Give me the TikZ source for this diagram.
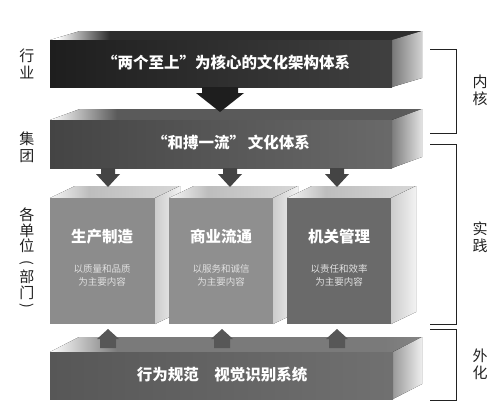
\documentclass[tikz,border=0pt]{standalone}
\usepackage{fontspec}
\setmainfont{Noto Sans CJK SC}
\usetikzlibrary{calc}
\definecolor{barA}{HTML}{1E1E1E}
\definecolor{barAtop}{HTML}{2E2E2E}
\definecolor{barB}{HTML}{444444}
\definecolor{barBtop}{HTML}{5A5A5A}
\definecolor{barC}{HTML}{575757}
\definecolor{barCtop}{HTML}{7A7A7A}
\definecolor{boxA}{HTML}{8C8C8C}
\definecolor{boxB}{HTML}{8F8F8F}
\definecolor{boxC}{HTML}{6A6A6A}
\definecolor{boxtop}{HTML}{BDBDBD}
\definecolor{ink}{HTML}{222222}
\pgfdeclarehorizontalshading{fadeA}{100bp}{color(0bp)=(white); color(26bp)=(white); color(33bp)=(barAtop); color(100bp)=(barAtop)}
\pgfdeclarehorizontalshading{fadeB}{100bp}{color(0bp)=(white); color(25bp)=(white); color(34bp)=(barBtop); color(72bp)=(barBtop); color(100bp)=(barBtop!70!white)}
\pgfdeclarehorizontalshading{fadeC}{100bp}{color(0bp)=(white); color(25bp)=(white); color(34bp)=(barCtop); color(70bp)=(barCtop); color(100bp)=(barCtop!50!white)}
\pgfdeclarehorizontalshading{fadeBox}{100bp}{color(0bp)=(white); color(25bp)=(white!85!boxtop); color(40bp)=(boxtop); color(75bp)=(boxtop!60!white); color(100bp)=(boxtop!60!white)}
\newcommand\slab[6]{%
  \fill[slabtop] (#1,#2) -- ($(#1,#2)+(#5,#6)$) -- ($(#3,#2)+(#5,#6)$) -- (#3,#2) -- cycle;
  \fill[slabside] (#3,#2) -- ($(#3,#2)+(#5,#6)$) -- ($(#3,#4)+(#5,#6)$) -- (#3,#4) -- cycle;
  \fill[slabfront] (#1,#2) rectangle (#3,#4);
}
\newcommand\blkdown[7]{% cx, ytop, yb, tip, shaft half, head half, color
  \fill[#7] (#1-#5,#2) -- (#1+#5,#2) -- (#1+#5,#3) -- (#1+#6,#3) -- (#1,#4) -- (#1-#6,#3) -- (#1-#5,#3) -- cycle;
}
\tikzset{
  bartext/.style={text=white, font=\fontsize{15.5}{17}\selectfont\bfseries, inner sep=0pt},
  boxtitle/.style={text=white, font=\fontsize{15.5}{17}\selectfont\bfseries, inner sep=0pt},
  boxsub/.style={text=white!88!black, font=\fontsize{9.5}{13}\selectfont, align=center, inner sep=0pt},
  sidelabel/.style={text=ink, font=\fontsize{15}{17}\selectfont, align=center, inner sep=0pt},
  sidechar/.style={text=ink, font=\fontsize{15}{17}\selectfont, inner sep=0pt},
  sideparen/.style={text=ink, font=\fontsize{14}{17}\selectfont, inner sep=0pt},
  bracket/.style={draw=ink, line width=0.9pt},
}
\begin{document}
\begin{tikzpicture}[x=1pt,y=-1pt]
\useasboundingbox (0,0) rectangle (500,416);
\fill[white] (0,0) rectangle (500,416);

% bar 1
\begin{scope}[slabtop/.style={shading=fadeA}, slabside/.style={left color=barA!60!white, right color=barA!20!white},
  slabfront/.style={left color=barA, right color=barA!85!white}]
\slab{50}{40}{392}{87}{30}{-9}
\end{scope}
\node[bartext] (t1) at (226,63) {“两个至上”为核心的文化架构体系};

% bar 2
\begin{scope}[slabtop/.style={shading=fadeB}, slabside/.style={left color=barB!70!white, right color=barB!15!white},
  slabfront/.style={left color=barB, right color=barB!80!white}]
\slab{50}{120}{392}{168}{30}{-11}
\end{scope}
\node[bartext] (t2) at (231,143) {“和搏一流”\hspace{3pt}文化体系};

% big arrow
\blkdown{220}{87}{93}{112}{18}{24}{barA}

% boxes
\begin{scope}[slabtop/.style={shading=fadeBox}, slabside/.style={left color=white!80!black, right color=white!95!black}]
\begin{scope}[slabfront/.style={fill=boxA}]
\slab{50}{198}{155}{324}{25}{-12}
\end{scope}
\begin{scope}[slabfront/.style={fill=boxB}]
\slab{169}{198}{273}{324}{25}{-12}
\end{scope}
\begin{scope}[slabfront/.style={fill=boxC}]
\slab{287}{198}{391}{324}{25}{-12}
\end{scope}
\end{scope}
\node[boxtitle] (b1) at (102,237) {生产制造};
\node[boxtitle] (b2) at (221,237) {商业流通};
\node[boxtitle] (b3) at (339,237) {机关管理};
\node[boxsub] (s1) at (102,275) {以质量和品质\\为主要内容};
\node[boxsub] (s2) at (221,275) {以服务和诚信\\为主要内容};
\node[boxsub] (s3) at (339,275) {以责任和效率\\为主要内容};

% down arrows
\blkdown{108}{168}{174}{187}{7}{12}{barB}
\blkdown{230}{168}{174}{187}{7}{12}{barB}
\blkdown{337}{168}{174}{187}{7}{12}{barB}

% bar 4
\begin{scope}[slabtop/.style={shading=fadeC}, slabside/.style={left color=barC!60!white, right color=barC!10!white},
  slabfront/.style={left color=barC, right color=barC!85!white}]
\slab{50}{352}{393}{399}{29}{-15}
\end{scope}
\node[bartext] (t4) at (222,375) {行为规范　视觉识别系统};

% up arrows
\blkdown{108}{348}{339}{329}{8}{11}{barC}
\blkdown{222}{348}{339}{329}{8}{11}{barC}
\blkdown{337}{348}{339}{329}{8}{11}{barC}

% left labels
\node[sidelabel] (l1) at (27,63.5) {行\\业};
\node[sidelabel] (l2) at (27,147.5) {集\\团};
\node[sidechar] (l3a) at (27,215) {各};
\node[sidechar] (l3b) at (27,231) {单};
\node[sidechar] (l3c) at (27,246) {位};
\node[sideparen, rotate=-90] (l3d) at (27,263) {(};
\node[sidechar] (l3e) at (27,277) {部};
\node[sidechar] (l3f) at (27,293) {门};
\node[sideparen, rotate=-90] (l3g) at (27,306) {)};

% right brackets
\draw[bracket] (430,49) -- (456,49) -- (456,133) -- (430,133);
\draw[bracket] (430,144) -- (456,144) -- (456,324) -- (430,324);
\draw[bracket] (430,329) -- (456,329) -- (456,400) -- (430,400);
\node[sidelabel] (r1) at (480,90) {内\\核};
\node[sidelabel] (r2) at (480,237.5) {实\\践};
\node[sidelabel] (r3) at (480,364) {外\\化};
\end{tikzpicture}
\end{document}
